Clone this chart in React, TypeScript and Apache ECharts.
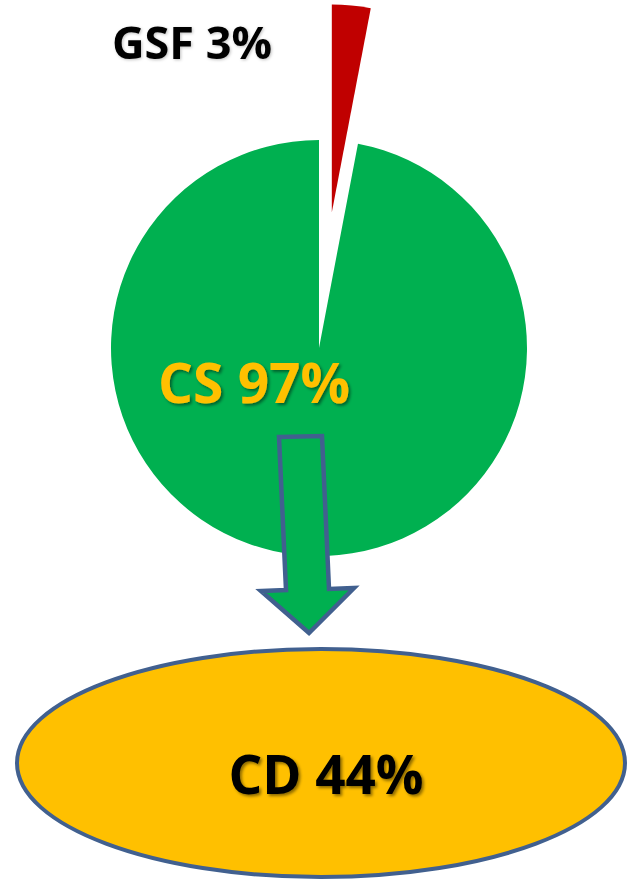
import React, { useEffect, useRef } from "react";
import * as echarts from "echarts";

// Pie slices: share of GSF vs CS
const sliceNames = ["GSF", "CS"];
const sliceValues = [3, 97];
const sliceColors = ["#c00000", "#00b050"];

// Share carried forward to CD
const cdName = "CD";
const cdShare = 44;

const FONT = "'Open Sans', 'Noto Sans', sans-serif";
const BORDER = "#41608f";

export default function App() {
  const ref = useRef<HTMLDivElement>(null);

  useEffect(() => {
    if (!ref.current) return;
    const chart = echarts.init(ref.current, undefined, { renderer: "svg" });

    const total = sliceValues.reduce((a, b) => a + b, 0);
    const sliceLabel = (i: number) =>
      `${sliceNames[i]} ${Math.round((sliceValues[i] / total) * 100)}%`;

    const shadow = (alpha: number, off: number) => ({
      textShadowColor: `rgba(0,0,0,${alpha})`,
      textShadowBlur: 3,
      textShadowOffsetX: off,
      textShadowOffsetY: off,
    });

    chart.setOption({
      animation: false,
      backgroundColor: "#ffffff",
      series: [
        {
          type: "pie",
          center: [319, 348],
          radius: 208,
          startAngle: 90,
          clockwise: true,
          selectedMode: "single",
          selectedOffset: 136,
          silent: true,
          emphasis: { disabled: true },
          label: { show: false },
          labelLine: { show: false },
          data: sliceNames.map((name, i) => ({
            name,
            value: sliceValues[i],
            selected: i === 0,
            itemStyle: { color: sliceColors[i], borderWidth: 0 },
            select: { itemStyle: { color: sliceColors[i], borderWidth: 0 } },
          })),
        },
      ],
      graphic: [
        {
          type: "text",
          z: 12,
          x: 112,
          y: 41,
          style: {
            text: sliceLabel(0),
            fontFamily: FONT,
            fontWeight: "bold",
            fontSize: 45,
            fill: "#000000",
            align: "left",
            verticalAlign: "middle",
            ...shadow(0.25, 1),
          },
        },
        {
          type: "text",
          z: 12,
          x: 158,
          y: 381,
          style: {
            text: sliceLabel(1),
            fontFamily: FONT,
            fontWeight: "bold",
            fontSize: 55,
            fill: "#ffc000",
            align: "left",
            verticalAlign: "middle",
            ...shadow(0.45, 2),
          },
        },
        {
          // down arrow from the CS slice to the CD ellipse
          type: "polygon",
          z: 10,
          shape: {
            points: [
              [279, 437],
              [322, 436],
              [329, 589],
              [354, 588],
              [309, 633],
              [261, 591],
              [286, 590],
            ],
          },
          style: {
            fill: "#00b050",
            stroke: BORDER,
            lineWidth: 4.5,
            lineJoin: "miter",
          },
        },
        {
          type: "ellipse",
          z: 10,
          shape: { cx: 321, cy: 763, rx: 304, ry: 114 },
          style: { fill: "#ffc000", stroke: BORDER, lineWidth: 4 },
        },
        {
          type: "text",
          z: 11,
          x: 326,
          y: 773,
          style: {
            text: `${cdName} ${cdShare}%`,
            fontFamily: FONT,
            fontWeight: "bold",
            fontSize: 53,
            fill: "#000000",
            align: "center",
            verticalAlign: "middle",
            ...shadow(0.45, 2),
          },
        },
      ],
    });

    return () => chart.dispose();
  }, []);

  return (
    <div
      ref={ref}
      style={{ position: "fixed", left: 0, top: 0, width: 628, height: 894 }}
    />
  );
}
